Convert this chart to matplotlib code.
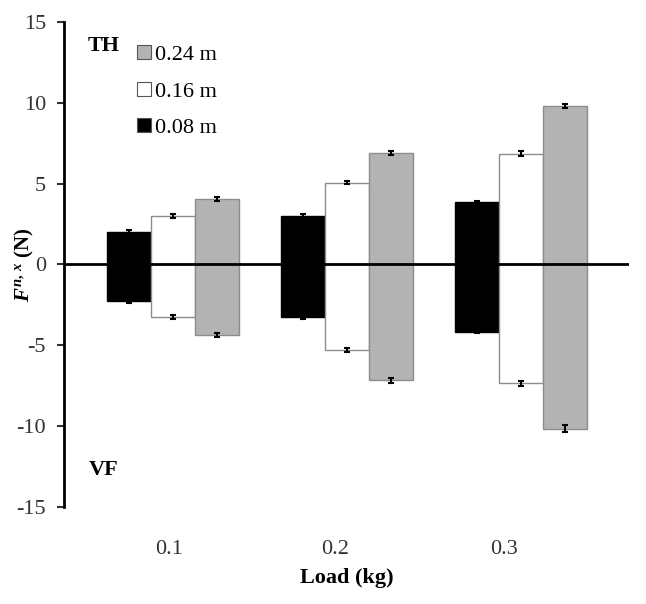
import matplotlib
matplotlib.use("Agg")
import matplotlib.pyplot as plt
import numpy as np

plt.rcParams['font.family'] = ['Liberation Serif', 'DejaVu Serif']
plt.rcParams['mathtext.fontset'] = 'custom'
plt.rcParams['mathtext.rm'] = 'Liberation Serif:bold'
plt.rcParams['mathtext.it'] = 'Liberation Serif:italic:bold'
plt.rcParams['axes.unicode_minus'] = False

loads = ['0.1', '0.2', '0.3']
series = ['0.08 m', '0.16 m', '0.24 m']

# TH (positive) and VF (negative) forces per load, one row per distance
th_vals = [[2.0, 3.0, 3.85],
           [3.0, 5.05, 6.85],
           [4.05, 6.9, 9.8]]
vf_vals = [[-2.25, -3.25, -4.15],
           [-3.25, -5.3, -7.35],
           [-4.35, -7.15, -10.15]]
th_err = [[0.12, 0.1, 0.1],
          [0.1, 0.1, 0.15],
          [0.1, 0.15, 0.15]]
vf_err = [[0.12, 0.1, 0.1],
          [0.12, 0.12, 0.15],
          [0.12, 0.15, 0.2]]

colors = ['black', 'white', '#b3b3b3']
edges = ['black', '#8c8c8c', '#8c8c8c']

fig = plt.figure(figsize=(6.46, 6.04), dpi=100)
ax = fig.add_axes([0.099, 0.1606, 0.875, 0.803])

x = np.arange(len(loads))
w = 0.253
handles = []
for i in range(3):
    pos = x + (i - 1) * w
    b = ax.bar(pos, th_vals[i], w, color=colors[i], edgecolor=edges[i], linewidth=1.0,
               yerr=th_err[i], error_kw=dict(ecolor='black', elinewidth=1.5, capsize=2.5, capthick=1.5),
               label=series[i], zorder=2)
    ax.bar(pos, vf_vals[i], w, color=colors[i], edgecolor=edges[i], linewidth=1.0,
           yerr=vf_err[i], error_kw=dict(ecolor='black', elinewidth=1.5, capsize=2.5, capthick=1.5),
           zorder=2)
    handles.append(b)

ax.axhline(0, color='black', lw=2, zorder=3)

ax.set_xlim(-0.626, 2.621)
ax.set_ylim(-15, 15)
ax.set_yticks(np.arange(-15, 16, 5))
ax.tick_params(axis='y', direction='out', length=5, width=1.5, pad=8, labelsize=16, colors='#333333')
ax.set_xticks(x - np.array([0.02, 0.07, 0.1]))
ax.set_xticklabels(loads)
ax.tick_params(axis='x', length=0, pad=24, labelsize=16, colors='#333333')

for s in ['top', 'right', 'bottom']:
    ax.spines[s].set_visible(False)
ax.spines['left'].set_linewidth(2)

ax.set_xlabel('Load (kg)', fontsize=16, fontweight='bold', labelpad=6)
ax.set_ylabel(r'$F^{n,\,x}$ (N)', fontsize=15, fontweight='bold')
ax.yaxis.set_label_coords(-0.05, 0.5)

ax.text(-0.40, 13.5, 'TH', fontsize=16, fontweight='bold', ha='center', va='center')
ax.text(-0.40, -12.7, 'VF', fontsize=16, fontweight='bold', ha='center', va='center')

leg = ax.legend(handles[::-1], series[::-1], loc='upper left', bbox_to_anchor=(0.11, 0.975),
                frameon=False, fontsize=16, handlelength=0.6, handleheight=0.6,
                handletextpad=0.2, labelspacing=0.75, borderpad=0)
for h in leg.legend_handles:
    h.set_edgecolor('#555555')
    h.set_linewidth(0.8)

fig.savefig('out.png', dpi=100)
